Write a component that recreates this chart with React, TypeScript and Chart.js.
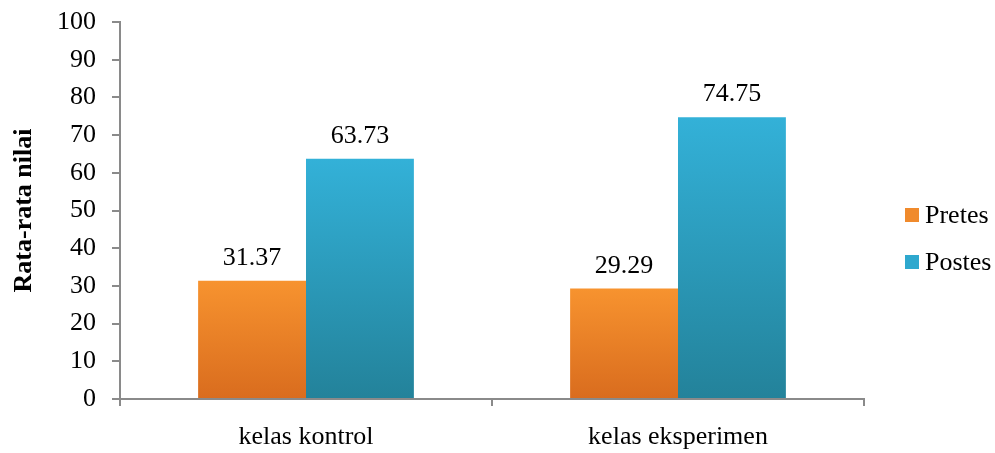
import React, { useEffect, useRef } from "react";
import { Chart, registerables } from "chart.js";

Chart.register(...registerables);

const categories = ["kelas kontrol", "kelas eksperimen"];
const seriesNames = ["Pretes", "Postes"];
const pretes = [31.37, 29.29];
const postes = [63.73, 74.75];
const yTicks = [0, 10, 20, 30, 40, 50, 60, 70, 80, 90, 100];
const yTitle = "Rata-rata nilai";

const FONT = "'Liberation Serif', 'Times New Roman', serif";
const AXIS = "#8a8a8a";
const FS = 26;

const grad = (top: string, bottom: string, fallback: string) => (ctx: any) => {
  const chart = ctx.chart;
  if (!chart.chartArea || ctx.type !== "data") return fallback;
  const y = chart.scales.y;
  const v = ctx.raw as number;
  const yTop = y.getPixelForValue(v);
  const yBot = y.getPixelForValue(0);
  if (!isFinite(yTop) || !isFinite(yBot) || yTop === yBot) return fallback;
  const g = chart.ctx.createLinearGradient(0, yTop, 0, yBot);
  g.addColorStop(0, top);
  g.addColorStop(1, bottom);
  return g;
};

const legendColors = ["#F08A2C", "#2EA8CE"];

const valueLabels = {
  id: "valueLabels",
  afterDatasetsDraw(chart: any) {
    const ctx = chart.ctx;
    ctx.save();
    ctx.font = `${FS}px ${FONT}`;
    ctx.fillStyle = "#000";
    ctx.textAlign = "center";
    ctx.textBaseline = "alphabetic";
    chart.data.datasets.forEach((ds: any, i: number) => {
      const meta = chart.getDatasetMeta(i);
      meta.data.forEach((el: any, j: number) => {
        ctx.fillText((ds.data[j] as number).toFixed(2), el.x, el.y - 16);
      });
    });
    ctx.restore();
  },
};

const sideLegend = {
  id: "sideLegend",
  afterDraw(chart: any) {
    const ctx = chart.ctx;
    const area = chart.chartArea;
    ctx.save();
    ctx.font = `${FS}px ${FONT}`;
    ctx.textBaseline = "middle";
    ctx.textAlign = "left";
    const x0 = area.right + 41;
    const yc = (area.top + area.bottom) / 2;
    chart.data.datasets.forEach((ds: any, i: number) => {
      const y = yc + 28 + (i - 0.5) * 47;
      ctx.fillStyle = legendColors[i];
      ctx.fillRect(x0, y - 7, 14, 14);
      ctx.fillStyle = "#000";
      ctx.fillText(ds.label, x0 + 20, y + 1);
    });
    ctx.restore();
  },
};

export default function App() {
  const ref = useRef<HTMLCanvasElement>(null);
  useEffect(() => {
    if (!ref.current) return;
    const chart = new Chart(ref.current, {
      type: "bar",
      data: {
        labels: categories,
        datasets: [
          {
            label: seriesNames[0],
            data: pretes,
            backgroundColor: grad("#F7932F", "#D96C1E", "#F08A2C"),
            borderWidth: 0,
            barPercentage: 1,
            categoryPercentage: 0.58,
          },
          {
            label: seriesNames[1],
            data: postes,
            backgroundColor: grad("#33B1D8", "#23829A", "#2EA8CE"),
            borderWidth: 0,
            barPercentage: 1,
            categoryPercentage: 0.58,
          },
        ],
      },
      plugins: [valueLabels, sideLegend],
      options: {
        responsive: true,
        maintainAspectRatio: false,
        animation: false,
        layout: { padding: { top: 22, right: 131, left: 0, bottom: 0 } },
        plugins: {
          legend: { display: false },
          tooltip: { enabled: false },
        },
        scales: {
          x: {
            grid: {
              display: true,
              drawOnChartArea: false,
              drawTicks: true,
              tickLength: 7,
              color: AXIS,
              lineWidth: 2,
              offset: true,
            },
            border: { color: AXIS, width: 2 },
            ticks: {
              color: "#000",
              font: { family: FONT, size: FS },
              padding: 16,
            },
            afterFit: (s: any) => {
              s.height = 54;
            },
          },
          y: {
            min: 0,
            max: 100,
            afterBuildTicks: (s: any) => {
              s.ticks = yTicks.map((v) => ({ value: v }));
            },
            grid: {
              display: true,
              drawOnChartArea: false,
              drawTicks: true,
              tickLength: 8,
              color: AXIS,
              lineWidth: 2,
            },
            border: { color: AXIS, width: 2 },
            ticks: {
              color: "#000",
              font: { family: FONT, size: FS },
              padding: 16,
            },
            title: {
              display: true,
              text: yTitle,
              color: "#000",
              font: { family: FONT, size: FS, weight: "bold" },
              padding: { top: 9, bottom: 0 },
            },
            afterFit: (s: any) => {
              s.width = 120;
              s.paddingTop = 0;
              s.paddingBottom = 0;
            },
          },
        },
      },
    });
    return () => chart.destroy();
  }, []);
  return (
    <div style={{ position: "fixed", left: 0, top: 0, width: 995, height: 453, background: "#fff" }}>
      <canvas ref={ref} />
    </div>
  );
}
